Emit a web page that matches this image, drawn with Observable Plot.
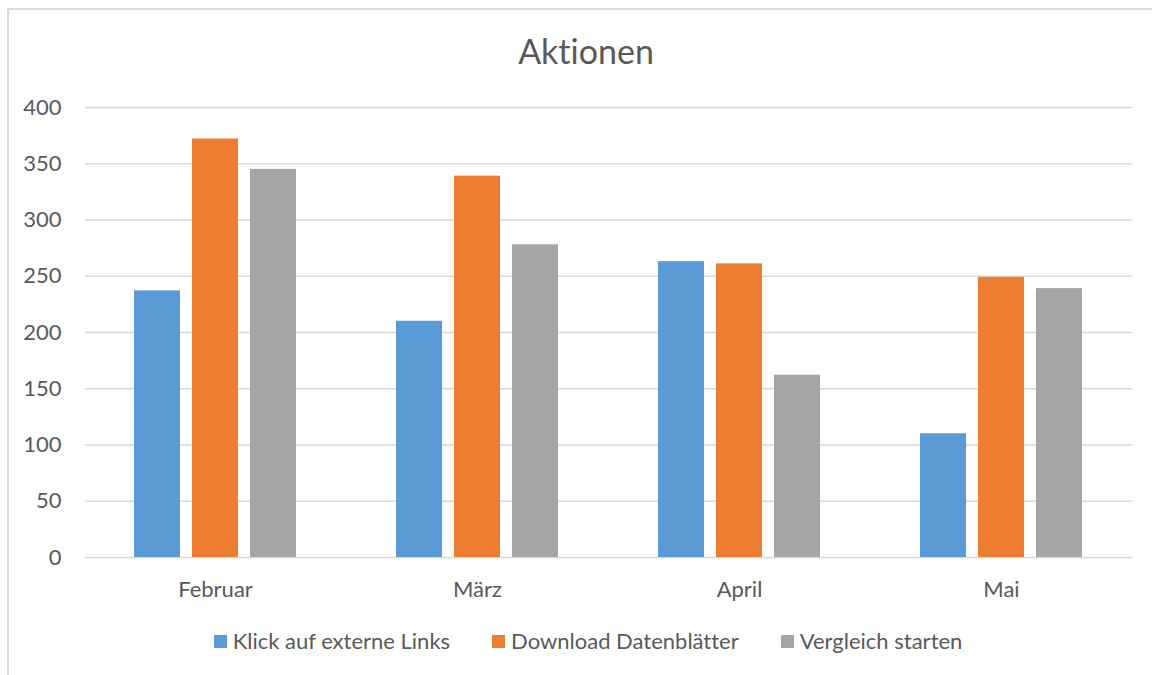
<!DOCTYPE html>
<html>
<head>
<meta charset="utf-8">
<script src="https://cdn.jsdelivr.net/npm/d3@7"></script>
<script src="https://cdn.jsdelivr.net/npm/@observablehq/plot@0.6"></script>
<style>
  body { margin: 0; background: #fff; font-family: Lato, "Open Sans", sans-serif; color: #595959; font-variant-ligatures: none; }
  #frame { position: absolute; left: 7px; top: 8px; width: 1160px; height: 700px; border: 2px solid #dcdcdc; box-sizing: border-box; }
  #title { position: absolute; top: 29px; left: 0; width: 1172px; text-align: center; font-size: 34px; line-height: 44px; }
  .layer { position: absolute; left: 0; top: 80px; }
  .layer svg { font-variant-ligatures: none; }
  #legend { position: absolute; top: 628px; left: 0; width: 1176px; display: flex; justify-content: center; align-items: center; font-size: 22px; line-height: 26px; }
  .item { display: flex; align-items: center; margin: 0 21px; }
  .swatch { width: 13px; height: 13px; margin-right: 6px; }
</style>
</head>
<body>
<div id="frame"></div>
<div id="title">Aktionen</div>
<div id="grid" class="layer"></div>
<div id="bars" class="layer"></div>
<div id="legend"></div>
<script>
// Months on the category axis
const months = ["Februar", "März", "April", "Mai"];
// Series names and their fill colours
const seriesNames = ["Klick auf externe Links", "Download Datenblätter", "Vergleich starten"];
const seriesColors = ["#5B9BD5", "#ED7D31", "#A5A5A5"];
// Monthly counts per series
const klickExterneLinks = [237, 210, 263, 110];
const downloadDatenblaetter = [372, 339, 261, 249];
const vergleichStarten = [345, 278, 162, 239];
// Value axis ticks
const yTicks = [0, 50, 100, 150, 200, 250, 300, 350, 400];

const seriesValues = [klickExterneLinks, downloadDatenblaetter, vergleichStarten];
const rows = [];
months.forEach((m, i) => {
  seriesNames.forEach((s, j) => rows.push({month: m, series: s, value: seriesValues[j][i]}));
});

// Shared frame for both layers
const frame = {
  width: 1152,
  height: 530,
  marginLeft: 85,
  marginRight: 20,
  marginTop: 27,
  marginBottom: 53,
  style: {fontFamily: "Lato, 'Open Sans', sans-serif", fontSize: "22px", color: "#595959", background: "transparent"}
};

// Back layer: horizontal gridlines spanning the whole plot area, and the value axis
const grid = Plot.plot({
  ...frame,
  y: {domain: [0, 400]},
  marks: [
    Plot.ruleY(yTicks, {stroke: "#d9d9d9", strokeWidth: 1.5}),
    Plot.axisY({ticks: yTicks, tickSize: 0, tickPadding: 24, label: null})
  ]
});
document.getElementById("grid").appendChild(grid);

// Front layer: grouped bars, one facet per month
const bars = Plot.plot({
  ...frame,
  fx: {domain: months, paddingInner: 0.381, paddingOuter: 0.186, label: null, axis: "bottom", tickSize: 0, tickPadding: 24},
  x: {domain: seriesNames, paddingInner: 0.207, paddingOuter: 0, axis: null},
  y: {domain: [0, 400], axis: null},
  color: {domain: seriesNames, range: seriesColors},
  marks: [
    Plot.barY(rows, {fx: "month", x: "series", y: "value", fill: "series"})
  ]
});
document.getElementById("bars").appendChild(bars);

// Legend row
const legend = document.getElementById("legend");
seriesNames.forEach((s, j) => {
  const item = document.createElement("div");
  item.className = "item";
  const sw = document.createElement("span");
  sw.className = "swatch";
  sw.style.background = seriesColors[j];
  const label = document.createElement("span");
  label.textContent = s;
  item.appendChild(sw);
  item.appendChild(label);
  legend.appendChild(item);
});
</script>
</body>
</html>
